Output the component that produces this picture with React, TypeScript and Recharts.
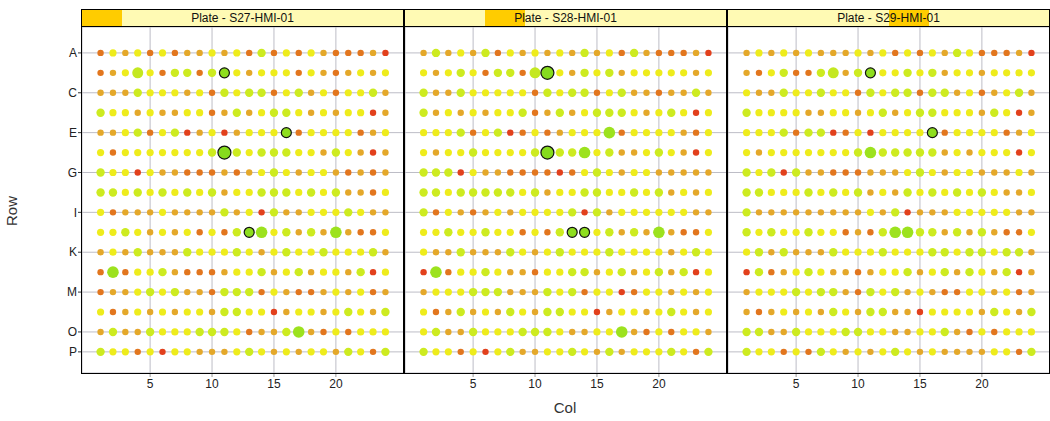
import React from 'react'
import { ScatterChart, Scatter, XAxis, YAxis, CartesianGrid } from 'recharts'

// plate layout
const rowLetters = ['A', 'B', 'C', 'D', 'E', 'F', 'G', 'H', 'I', 'J', 'K', 'L', 'M', 'N', 'O', 'P']
const rowTicks = [1, 3, 5, 7, 9, 11, 13, 15, 16]
const colTicks = [5, 10, 15, 20]

// one char per well:
// r red, o orange, a amber, Y yellow, l lime, L big lime, g big green, H/G green hit (outlined)
const s27Wells = [
  'oYaYoYoaaYaYoloYoYaoooar',
  'oaYLYollolHYaYYYoYaoaYaY',
  'aaalYYYaYolYlloYlaYoYYla',
  'lYYaYaaYYoalaYllYaYaYYra',
  'aaYloYlraYraYYYHoYYYYoaY',
  'YoYYYYYYYlGlYlllYYalYara',
  'lYYrYaaoooaoaYlYaYYaoaoa',
  'llYlYlYlYlaYYlllYlYlaaoY',
  'YoaaaYaaaalaYrlaaYYYlYaa',
  'YYlYaYaYoYolHgYlalagaooY',
  'aYalaaalYYYlYaYlYYlYYYla',
  'ogoYYlaoooaYYlaYlaYYalrY',
  'oaaYlYlaaollloYaooaYaYoa',
  'YoaYaYaYYallYYraYYaYlYal',
  'alaalYYYlllYoaalgaoYoYYY',
  'lYYoYrYYaaaYlYaYaYYalYol',
]

const s28Wells = [
  'alaYaloYaYaYalaYolaoooar',
  'YaYlYolloLGYalYlaYYYYYaY',
  'laalYYYYYolYlloYlaaoaala',
  'laYaYaYYloalaYlllYaYlYrY',
  'YYYloYlroYoaYYYgoYYYYaoY',
  'YaYYlYYYYlGllgYlaaYlYarY',
  'lllrYaaooooroYlYaYYaaaaa',
  'llYlllllYlaYYllYYlYlaYaY',
  'loYaoaYaYYYYlrlaYYYYYYaa',
  'YYlYYlYYoYolHHYlalagaooY',
  'YaalaaalYaYlYYYlYYYYaYlY',
  'rgoYYlYaaoYYllaYlaYlalrY',
  'aYYYlllaaalYloYYroYYaYaY',
  'YoalaYalYallYYraYYaYlYaY',
  'YlaalYYYlllYaaYYgaoYoYYa',
  'lYYoYrYlaaYYlYalaYYYlYol',
]

const s29Wells = [
  'aYaYaYaaaYaYoYoYalYoooar',
  'aoYloolLalHYYlYlaYYaYYYY',
  'YaalYYlYYolYllollaYoaYla',
  'lYYYYaaYYaYlaYllYYYalYra',
  'YYYlollroYrYYYYHoYYYYoaY',
  'YaYYYYYYYlglllllaYaYYYrY',
  'lYlrlaaoooaaaYlYaYYaaaYa',
  'llYYYlYlYlaYalYlYlYlYaaY',
  'laaaaaaaaaYalraaaYYYYYaa',
  'lYlYYlYYoaolggllalalaooY',
  'YlalaaalYYYlYYYllYllYlla',
  'rloaYlYaaoaYYlaYlalYalra',
  'aYYYlYllaolYlaYaooYYaYoa',
  'aoaYaYalYallaarYYYYalYal',
  'llaalYYYllYYaaYYlaoYoYYY',
  'lYYoYolYaYaYlYaYaaaaYYol',
]

const plateNames = ['Plate - S27-HMI-01', 'Plate - S28-HMI-01', 'Plate - S29-HMI-01']
const plateLevels = [0, 2, 4] // position of the shaded block in the strip
const levelCount = 8

const dotStyle: Record<string, { fill: string; r: number; stroke?: string }> = {
  r: { fill: '#E2401C', r: 3.2 },
  o: { fill: '#E2761E', r: 3.2 },
  a: { fill: '#E4A82A', r: 3.2 },
  Y: { fill: '#EEEC1C', r: 3.6 },
  l: { fill: '#CDEB20', r: 4.2 },
  L: { fill: '#C4E820', r: 5.5 },
  g: { fill: '#9CE21E', r: 5.8 },
  H: { fill: '#8EDE1E', r: 5, stroke: '#111' },
  G: { fill: '#86DC1E', r: 6.5, stroke: '#111' },
}

const toPoints = (wells: string[]) =>
  wells
    .flatMap((line, i) => line.split('').map((code, j) => ({ col: j + 1, row: i + 1, code })))
    .sort((p, q) => dotStyle[p.code].r - dotStyle[q.code].r)

const plates = [toPoints(s27Wells), toPoints(s28Wells), toPoints(s29Wells)]

const WellDot = (props: any) => {
  const { cx, cy, payload } = props
  const s = dotStyle[payload.code]
  return <circle cx={cx} cy={cy} r={s.r} fill={s.fill} stroke={s.stroke || 'none'} strokeWidth={1.2} />
}

const font = '"Liberation Sans", Arial, sans-serif'
const tickStyle = { fill: '#222', fontSize: 12, fontFamily: font }

const Panel = ({ data, showRows, left, width }: any) => (
  <div style={{ position: 'absolute', left, top: 0 }}>
    <ScatterChart
      width={width}
      height={421}
      margin={{ top: 27, right: 0, bottom: 0, left: showRows ? 0 : 1 }}
    >
      <CartesianGrid stroke="#BDBDC6" strokeWidth={1} />
      <XAxis
        type="number"
        dataKey="col"
        domain={[-0.5, 25.5]}
        ticks={colTicks}
        interval={0}
        height={48}
        axisLine={false}
        tickSize={4}
        tickLine={{ stroke: '#999' }}
        tick={tickStyle}
        allowDataOverflow
      />
      <YAxis
        type="number"
        dataKey="row"
        reversed
        domain={[-0.3, 17.06]}
        ticks={rowTicks}
        interval={0}
        width={showRows ? 82 : 0}
        hide={!showRows}
        axisLine={false}
        tickSize={4}
        tickMargin={1}
        tickLine={{ stroke: '#333' }}
        tick={tickStyle}
        tickFormatter={(v: number) => rowLetters[v - 1]}
        allowDataOverflow
      />
      <Scatter data={data} shape={WellDot} isAnimationActive={false} />
    </ScatterChart>
  </div>
)

const boxLefts = [81, 404, 727]

export default function App() {
  return (
    <div
      style={{
        position: 'absolute',
        left: 0,
        top: 0,
        width: 1050,
        height: 421,
        background: '#fff',
        fontFamily: font,
        overflow: 'hidden',
      }}
    >
      <Panel data={plates[0]} showRows left={0} width={404} />
      <Panel data={plates[1]} left={404} width={323} />
      <Panel data={plates[2]} left={727} width={323} />

      {/* panel frames + strips */}
      {boxLefts.map((x, i) => (
        <div
          key={i}
          style={{
            position: 'absolute',
            left: x,
            top: 9,
            width: 323,
            height: 365,
            boxSizing: 'border-box',
            border: '1px solid #000',
            pointerEvents: 'none',
          }}
        >
          <div
            style={{
              position: 'relative',
              height: 16,
              borderBottom: '1px solid #000',
              background: '#FFFAB4',
            }}
          >
            <div
              style={{
                position: 'absolute',
                top: 0,
                bottom: 0,
                left: `${(plateLevels[i] / levelCount) * 100}%`,
                width: `${100 / levelCount}%`,
                background: '#FFCC00',
              }}
            />
            <div
              style={{
                position: 'absolute',
                inset: 0,
                textAlign: 'center',
                fontSize: 12,
                lineHeight: '16px',
                color: '#111',
              }}
            >
              {plateNames[i]}
            </div>
          </div>
        </div>
      ))}

      <svg width={1050} height={421} style={{ position: 'absolute', left: 0, top: 0, pointerEvents: 'none' }}>
        <text x={565} y={413} textAnchor="middle" fontSize={15} fill="#333" fontFamily={font}>
          Col
        </text>
        <text
          x={17}
          y={211}
          textAnchor="middle"
          fontSize={15}
          fill="#333"
          fontFamily={font}
          transform="rotate(-90 17 211)"
        >
          Row
        </text>
      </svg>
    </div>
  )
}
